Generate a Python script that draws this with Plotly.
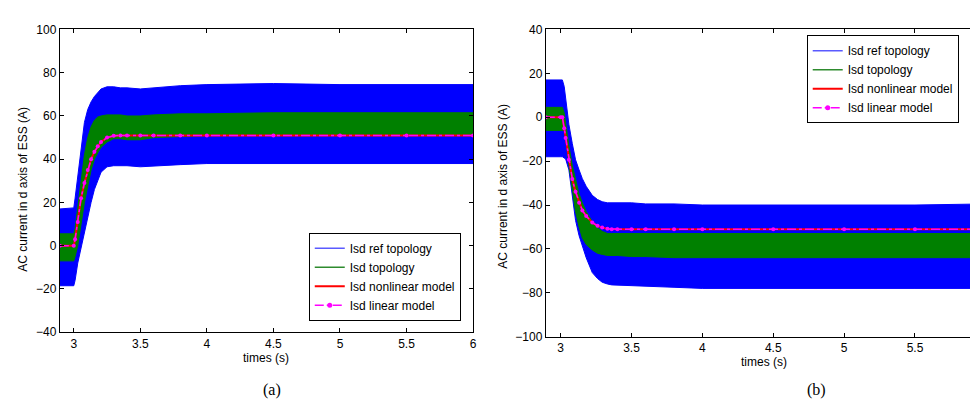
import plotly.graph_objects as go

# ---------------- data ----------------
# (a) envelopes of the switching ripple bands and model step responses
t_a = [2.895, 3.0, 3.01, 3.03, 3.055, 3.08, 3.105, 3.13, 3.155, 3.18, 3.205,
       3.25, 3.3, 3.35, 3.4, 3.5, 3.6, 3.8, 4.0, 4.5, 5.0, 5.5, 6.0]
ref_up_a = [17, 17.5, 22, 32, 45, 57, 63, 66.5, 69, 71, 72.5,
            73.5, 73.5, 73, 73, 72.5, 73, 74, 74.5, 75, 74.5, 74.5, 74.5]
ref_lo_a = [-18.5, -18.5, -16, -8, -1, 7, 13, 20, 26, 30, 34,
            36.5, 37, 37, 37, 36.5, 37, 37.5, 38, 38, 38, 38, 38]
top_up_a = [5.5, 5.5, 8, 18, 30, 42, 50, 55, 58, 59.5, 60,
            60.5, 60.5, 60.5, 60, 60, 60.5, 61, 61, 61.5, 61.5, 61.5, 61.5]
top_lo_a = [-7, -7, -5, 0, 10, 20, 28, 35, 40, 43, 45.5,
            48, 49.5, 49.5, 49, 49, 50, 50.5, 51, 51, 51, 51, 51]
nonlin_a = [0, 0, 3, 11, 22, 29, 35, 40, 43.5, 46, 48,
            50, 50.8, 51, 51, 51, 51, 51, 51, 51, 51, 51, 51]
lin_a = [0, 0, 3, 11, 22, 29, 35, 40, 43.5, 46, 48,
         50, 50.8, 51, 51, 51, 51, 51, 51, 51, 51, 51, 51]

# (b)
t_b = [2.895, 3.0, 3.012, 3.025, 3.035, 3.058, 3.082, 3.105, 3.13, 3.153, 3.18,
       3.223, 3.26, 3.293, 3.33, 3.36, 3.4, 3.5, 3.6, 3.8, 4.0, 4.5, 5.0, 5.5, 6.0]
ref_up_b = [17, 17, 17, 14, 8, -3.3, -12, -19.4, -24, -28, -31.5,
            -35.6, -37.5, -38.5, -39, -39, -39, -39, -39.5, -39.5, -40, -40, -40, -40, -39.5]
ref_lo_b = [-18, -18, -18, -18.5, -19, -24, -36, -47, -54, -59, -64,
            -70.8, -73.5, -75.2, -76, -76.4, -76.5, -77, -77, -77.5, -78, -78, -78, -78, -78]
top_up_b = [4.5, 4.5, 4.5, 2, -3, -13, -22, -29, -35, -39, -43,
            -47.5, -50.5, -52, -53, -53, -53, -53, -53, -53, -53, -53, -53, -53, -53]
top_lo_b = [-6, -6, -6, -6, -8, -22, -32, -43, -50, -55, -58,
            -60.5, -62, -62.5, -63, -63, -63, -63.5, -63.5, -64, -64, -64, -64, -64, -64]
nonlin_b = [0, 0, 0, -5, -9.5, -19.4, -28.2, -34, -39, -42.5, -45,
            -48, -49.5, -50.3, -50.8, -51, -51, -51, -51, -51, -51, -51, -51, -51, -51]
lin_b = [0, 0, 0, -5, -9.5, -19.4, -28.2, -34, -39, -42.5, -45,
         -48, -49.5, -50.3, -50.8, -51, -51, -51, -51, -51, -51, -51, -51, -51, -51]

x_ticks_a = [3, 3.5, 4, 4.5, 5, 5.5, 6]
x_ticks_b = [3, 3.5, 4, 4.5, 5, 5.5]
legend_names = ["Isd ref topology", "Isd topology", "Isd nonlinear model", "Isd linear model"]

W, H = 978, 401
FONT = "Arial, Liberation Sans, sans-serif"
FS = 12
BLUE, GREEN, RED, MAG = "#0000ff", "#008000", "#ff0000", "#ff00ff"


def px(x):
    return x / W


def py(y):
    return 1 - y / H


fig = go.Figure()


def band(t, up, lo, color, xa, ya):
    fig.add_trace(go.Scatter(
        x=list(t) + list(t)[::-1], y=list(up) + list(lo)[::-1],
        fill="toself", fillcolor=color, mode="lines",
        line=dict(color=color, width=1), showlegend=False, hoverinfo="skip",
        xaxis=xa, yaxis=ya))


def panel(t, rup, rlo, gup, glo, nl, ln, xa, ya, leg):
    band(t, rup, rlo, BLUE, xa, ya)
    band(t, gup, glo, GREEN, xa, ya)
    fig.add_trace(go.Scatter(x=t, y=nl, mode="lines", line=dict(color=RED, width=2),
                             showlegend=False, xaxis=xa, yaxis=ya))
    fig.add_trace(go.Scatter(x=t, y=ln, mode="lines+markers",
                             line=dict(color=MAG, width=1.5, dash="dashdot"),
                             marker=dict(color=MAG, size=4),
                             showlegend=False, xaxis=xa, yaxis=ya))
    # legend entries (line samples as in the original)
    styles = [dict(mode="lines", line=dict(color="#5a5aff", width=1.5)),
              dict(mode="lines", line=dict(color="#2e8b2e", width=1.5)),
              dict(mode="lines", line=dict(color=RED, width=2)),
              dict(mode="lines+markers", line=dict(color=MAG, width=1.5, dash="dashdot"),
                   marker=dict(color=MAG, size=5))]
    for name, st in zip(legend_names, styles):
        fig.add_trace(go.Scatter(x=[None], y=[None], name=name, legend=leg,
                                 xaxis=xa, yaxis=ya, **st))


panel(t_a, ref_up_a, ref_lo_a, top_up_a, top_lo_a, nonlin_a, lin_a, "x", "y", "legend")
panel(t_b, ref_up_b, ref_lo_b, top_up_b, top_lo_b, nonlin_b, lin_b, "x2", "y2", "legend2")

axis_common = dict(showline=True, linecolor="black", linewidth=1, mirror="ticks",
                   ticks="inside", ticklen=4, tickcolor="black", showgrid=False,
                   zeroline=False, tickfont=dict(family=FONT, size=FS, color="black"))

legend_common = dict(bgcolor="white", bordercolor="black", borderwidth=1,
                     font=dict(family=FONT, size=FS, color="black"),
                     tracegroupgap=0, itemwidth=30)

fig.update_layout(
    width=W, height=H, margin=dict(l=0, r=0, t=0, b=0),
    paper_bgcolor="white", plot_bgcolor="white",
    font=dict(family=FONT, size=FS, color="black"),
    xaxis=dict(domain=[px(52), px(467)], range=[2.895, 6], anchor="y",
               tickvals=x_ticks_a, ticktext=[f"{v:g}" for v in x_ticks_a], **axis_common),
    yaxis=dict(domain=[py(328.7), py(15)], range=[-40, 100], anchor="x",
               dtick=20, tick0=0, **axis_common),
    xaxis2=dict(domain=[px(540), 1.0], range=[2.895, 5.973], anchor="y2",
                tickvals=x_ticks_b, ticktext=[f"{v:g}" for v in x_ticks_b], **axis_common),
    yaxis2=dict(domain=[py(333.3), py(15)], range=[-100, 40], anchor="x2",
                dtick=20, tick0=0, **axis_common),
    legend=dict(x=px(302), y=py(316.7), xanchor="left", yanchor="bottom", **legend_common),
    legend2=dict(x=px(802), y=py(21), xanchor="left", yanchor="top", **legend_common),
    showlegend=True,
)

ann = [
    dict(text="times (s)", x=px(259.5), y=py(355), font=dict(size=FS)),
    dict(text="times (s)", x=px(759), y=py(360), font=dict(size=FS)),
    dict(text="AC current in d axis of ESS (A)", x=px(15), y=py(180), textangle=-90,
         font=dict(size=FS)),
    dict(text="AC current in d axis of ESS (A)", x=px(497), y=py(177), textangle=-90,
         font=dict(size=FS)),
    dict(text="(a)", x=px(265), y=py(389),
         font=dict(family="Times New Roman, Liberation Serif, serif", size=16)),
    dict(text="(b)", x=px(812), y=py(389),
         font=dict(family="Times New Roman, Liberation Serif, serif", size=16)),
]
for a in ann:
    f = dict(family=FONT, color="black")
    f.update(a.pop("font"))
    fig.add_annotation(xref="paper", yref="paper", xanchor="center", yanchor="middle",
                       showarrow=False, font=f, **a)

fig.write_html("out.html")
